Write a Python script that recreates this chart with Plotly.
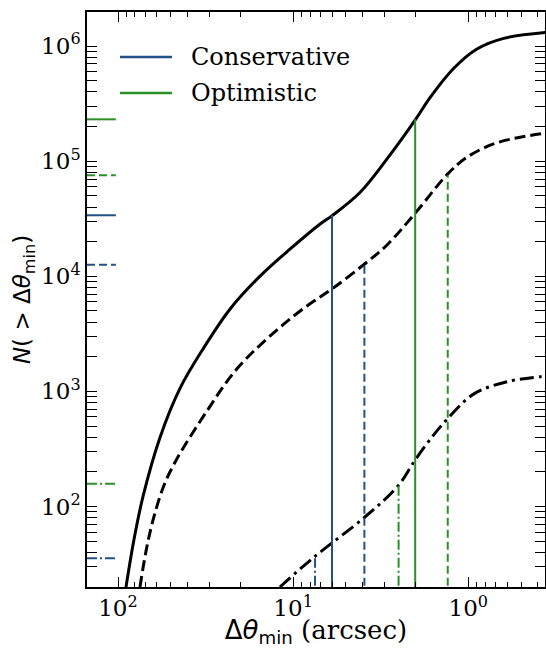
import plotly.graph_objects as go

# ---- data ----
theta_solid = [90.0, 81.0, 71.9, 57.5, 44.2, 32.7, 22.9, 15.4, 10.4, 7.01, 5.99, 4.14, 2.91, 1.99, 1.65, 1.21, 0.892, 0.628, 0.358]
N_solid = [20, 52.0, 123, 400, 1068, 2337, 5205, 10080, 17280, 28500, 33650, 53760, 104700, 233300, 358700, 642400, 943700, 1.167e6, 1.315e6]

theta_dash = [74.9, 69.2, 62.9, 54.6, 46.2, 31.1, 21.0, 12.4, 8.35, 6.01, 3.91, 2.91, 1.99, 1.31, 1.017, 0.717, 0.505, 0.358]
N_dash = [20, 40.9, 77.6, 153, 258, 674, 1563, 3412, 5516, 7755, 12790, 18720, 36010, 77550, 108300, 141300, 161700, 175200]

theta_dd = [11.9, 7.66, 3.91, 2.52, 2.01, 1.58, 1.31, 0.933, 0.601, 0.388, 0.358]
N_dd = [20, 36.0, 80.7, 151, 254, 417, 581, 947, 1214, 1342, 1361]

# thresholds: (solid, dashed, dash-dot)
cons_theta = [6.0, 3.92, 7.5]
cons_N = [3.39e4, 1.26e4, 35.5]
opt_theta = [2.01, 1.31, 2.5]
opt_N = [2.31e5, 7.55e4, 158]

x_tickvals = [100, 10, 1]
x_ticktext = ["10<sup>2</sup>", "10<sup>1</sup>", "10<sup>0</sup>"]
y_tickvals = [1e2, 1e3, 1e4, 1e5, 1e6]
y_ticktext = ["10<sup>2</sup>", "10<sup>3</sup>", "10<sup>4</sup>", "10<sup>5</sup>", "10<sup>6</sup>"]
x_minor = [m * 10 ** e for e in range(-1, 3) for m in range(2, 10)]
y_minor = [m * 10 ** e for e in range(1, 7) for m in range(2, 10)]

legend_labels = ["Conservative", "Optimistic"]

BLUE = "#235088"
GREEN = "#2a9128"
Y_BOTTOM = 10

curve_dashes = ["solid", "11px,5px", "14px,5px,3px,5px"]
thin_dashes = ["solid", "8px,4px", "10px,3px,2px,3px"]

fig = go.Figure()

for xs, ys, d in [(theta_solid, N_solid, curve_dashes[0]),
                  (theta_dash, N_dash, curve_dashes[1]),
                  (theta_dd, N_dd, curve_dashes[2])]:
    fig.add_trace(go.Scatter(x=xs, y=ys, mode="lines",
                             line=dict(color="black", width=3, dash=d, shape="spline", smoothing=1.0),
                             showlegend=False, hoverinfo="skip"))

for thetas, Ns, col in [(cons_theta, cons_N, BLUE), (opt_theta, opt_N, GREEN)]:
    for t, n, d in zip(thetas, Ns, thin_dashes):
        fig.add_trace(go.Scatter(x=[t, t], y=[Y_BOTTOM, n], mode="lines",
                                 line=dict(color=col, width=2, dash=d), showlegend=False, hoverinfo="skip"))
        fig.add_trace(go.Scatter(x=[0, 0.063], y=[n, n], xaxis="x2", mode="lines",
                                 line=dict(color=col, width=2, dash=d), showlegend=False, hoverinfo="skip"))

# legend (manual)
for i, (lab, col) in enumerate(zip(legend_labels, [BLUE, GREEN])):
    yp = 0.9217 - i * 0.0626
    fig.add_shape(type="line", xref="paper", yref="paper", x0=0.072, x1=0.1856, y0=yp, y1=yp,
                  line=dict(color=col, width=2.5))
    fig.add_annotation(xref="paper", yref="paper", x=0.222, y=yp, text=lab, showarrow=False,
                       xanchor="left", yanchor="middle", font=dict(family="DejaVu Serif", size=24, color="black"))

def axis_common(minor_vals):
    return dict(showline=True, linecolor="black", linewidth=1.5, mirror="allticks",
                ticks="inside", ticklen=10, tickwidth=1.3, tickcolor="black",
                showgrid=False, zeroline=False, automargin=False,
                tickfont=dict(family="DejaVu Serif", size=23, color="black"),
                minor=dict(ticks="inside", ticklen=5, tickwidth=1, tickcolor="black",
                           tickmode="array", tickvals=minor_vals, showgrid=False))

fig.update_layout(
    width=546, height=648,
    margin=dict(l=87, r=1, t=12, b=61),
    paper_bgcolor="white", plot_bgcolor="white",
    showlegend=False,
    xaxis=dict(type="log", range=[2.177, -0.438], tickvals=x_tickvals, ticktext=x_ticktext,
               title=dict(text='<span style="font-family:DejaVu Sans">Δ<i>θ</i><sub>min</sub></span> (arcsec)',
                          font=dict(family="DejaVu Serif", size=26, color="black"), standoff=1),
               **axis_common(x_minor)),
    yaxis=dict(type="log", range=[1.301, 6.296], tickvals=y_tickvals, ticktext=y_ticktext,
               title=dict(text="<i>N</i>( &gt; Δ<i>θ</i><sub>min</sub>)",
                          font=dict(family="DejaVu Sans", size=23, color="black"), standoff=4),
               **axis_common(y_minor)),
    xaxis2=dict(overlaying="x", range=[0, 1], visible=False, anchor="y"),
)

fig.write_html("out.html", config={"displayModeBar": False},
               post_script="document.body.style.margin='0';document.body.style.overflow='hidden';")
